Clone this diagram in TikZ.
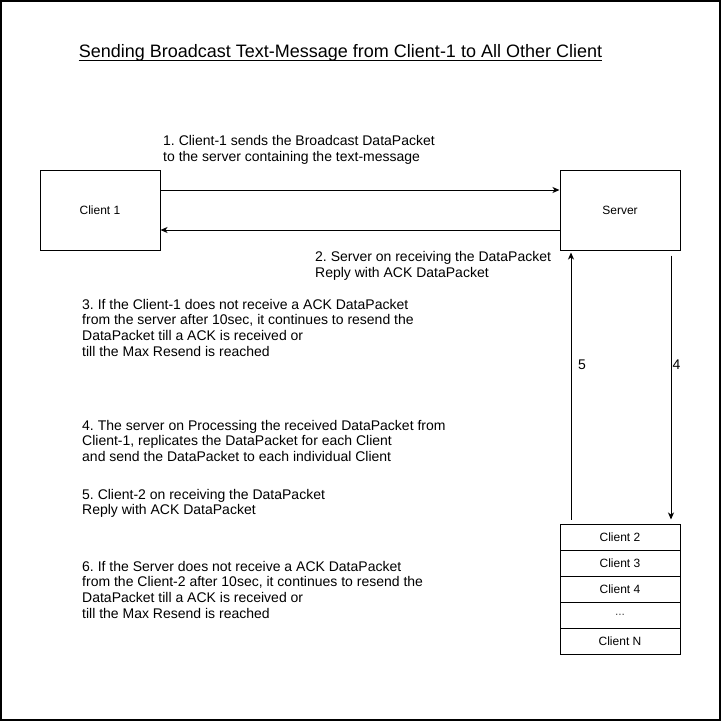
\documentclass[tikz,border=0pt]{standalone}
\usepackage{fontspec}
\setmainfont{Liberation Sans}
\usetikzlibrary{arrows.meta}
\frenchspacing

\begin{document}
\begin{tikzpicture}[x=1pt, y=-1pt,
	box/.style={draw,
		line width=1pt,
		minimum width=120pt,
		minimum height=80pt,
		font=\fontsize{12}{14}\selectfont},
	row/.style={draw,
		line width=1pt,
		minimum width=120pt,
		minimum height=26pt,
		font=\fontsize{12}{14}\selectfont},
	note/.style={anchor=north west,
		inner sep=0pt,
		align=left,
		font=\fontsize{14}{15.6}\selectfont},
	msg/.style={line width=1pt,
		-{Stealth[length=7pt, width=6pt, inset=2pt]}}]
			\useasboundingbox (0,0) rectangle (721,721);
			
			%frame
			\draw[line width=2pt] (1,1) rectangle (720,720);
			
			%title
			\node[inner sep=0pt,
			anchor=base,
			font=\fontsize{18}{20}\selectfont] (Title) at (340.5,57){Sending Broadcast Text-Message from Client-1 to All Other Client};
			\draw[line width=1pt] ([yshift=-3.5pt]Title.base west) -- ([yshift=-3.5pt]Title.base east);
			
			%boxes
			\node[box] (Client1) at (100,210){Client 1};
			\node[box] (Server) at (620,210){Server};
			
			\node[row] (Client2) at (620,537){Client 2};
			\node[row] (Client3) at (620,563){Client 3};
			\node[row] (Client4) at (620,589){Client 4};
			\node[row, text=black!70] (Dots) at (620,615){...};
			\node[row] (ClientN) at (620,641){Client N};
			
			%arrows
			\draw[msg] ([yshift=20pt]Client1.east) -- ([yshift=20pt]Server.west);
			\draw[msg] ([yshift=-20pt]Server.west) -- ([yshift=-20pt]Client1.east);
			\draw[msg] ([xshift=-49pt, yshift=4pt]Client2.north) -- ([xshift=-49pt, yshift=-2pt]Server.south);
			\draw[msg] ([xshift=51pt, yshift=-5pt]Server.south) -- ([xshift=51pt, yshift=4pt]Client2.north);
			
			\node[font=\fontsize{14}{16}\selectfont] (Five) at (582,365){5};
			\node[font=\fontsize{14}{16}\selectfont] (Four) at (676.5,365){4};
			
			%steps
			\node[note] (Step1) at (163,135.5){1. Client-1 sends the Broadcast DataPacket\\to the server containing the text-message};
			\node[note] (Step2) at (315,251.5){2. Server on receiving the DataPacket\\Reply with ACK DataPacket};
			\node[note] (Step3) at (82,299){3. If the Client-1 does not receive a ACK DataPacket\\from the server after 10sec, it continues to resend the\\DataPacket till a ACK is received or\\till the Max Resend is reached};
			\node[note] (Step4) at (82,420){4. The server on Processing the received DataPacket from\\Client-1, replicates the DataPacket for each Client\\and send the DataPacket to each individual Client};
			\node[note] (Step5) at (82,489){5. Client-2 on receiving the DataPacket\\Reply with ACK DataPacket};
			\node[note] (Step6) at (82,561){6. If the Server does not receive a ACK DataPacket\\from the Client-2 after 10sec, it continues to resend the\\DataPacket till a ACK is received or\\till the Max Resend is reached};
		\end{tikzpicture}
\end{document}
